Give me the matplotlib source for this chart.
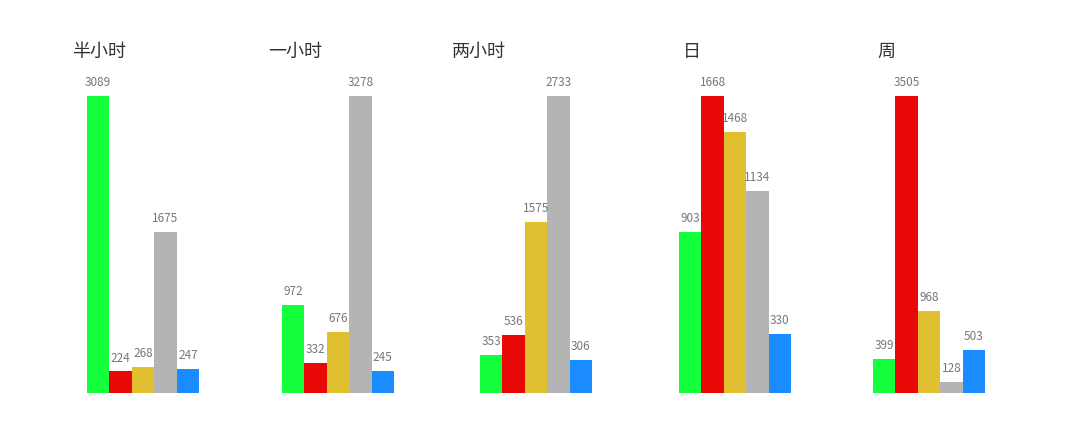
import matplotlib
matplotlib.use("Agg")
import matplotlib.pyplot as plt

plt.rcParams['font.family'] = ['Noto Sans CJK SC', 'DejaVu Sans']

titles = ["半小时", "一小时", "两小时", "日", "周"]
values = [
    [3089, 224, 268, 1675, 247],
    [972, 332, 676, 3278, 245],
    [353, 536, 1575, 2733, 306],
    [903, 1668, 1468, 1134, 330],
    [399, 3505, 968, 128, 503],
]
colors = ["#14ff3c", "#e80808", "#e0c030", "#b4b4b4", "#1a8cff"]

W, H = 1080, 421
fig = plt.figure(figsize=(W/100, H/100), dpi=100)
lefts = [87, 282, 480, 679, 873]
title_x = [72, 268, 452, 683, 877]
bottom, topbar = 393, 96
for i, vals in enumerate(values):
    ax = fig.add_axes([lefts[i]/W, (H-bottom)/H, 112/W, (bottom-topbar)/H])
    ax.bar(range(5), vals, width=1.0, color=colors)
    ax.set_xlim(-0.5, 4.5)
    ax.set_ylim(0, max(vals))
    ax.axis('off')
    for j, v in enumerate(vals):
        ax.annotate(str(v), (j, v), xytext=(0, 5), textcoords='offset points',
                    ha='center', va='bottom', fontsize=8.5, color='#777777',
                    annotation_clip=False)
    fig.text(title_x[i]/W, 1-52/H, titles[i], fontsize=13, color='#333333',
             ha='left', va='center')
fig.savefig("out.png", dpi=100)
